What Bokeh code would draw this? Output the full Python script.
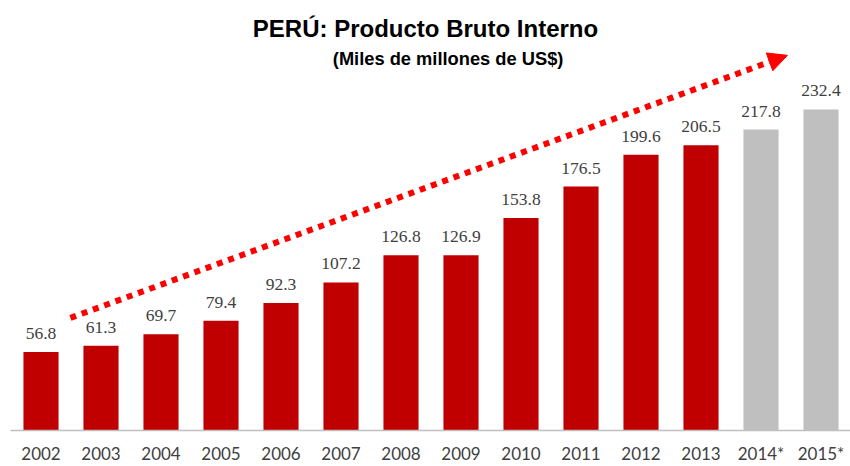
from bokeh.plotting import figure
from bokeh.models import (ColumnDataSource, Range1d, FixedTicker, LabelSet, Label,
                          Arrow, NormalHead)
from bokeh.embed import file_html
from bokeh.resources import INLINE

# ---- data ----
years = ["2002", "2003", "2004", "2005", "2006", "2007", "2008", "2009",
         "2010", "2011", "2012", "2013", "2014*", "2015*"]
pbi = [56.8, 61.3, 69.7, 79.4, 92.3, 107.2, 126.8, 126.9,
       153.8, 176.5, 199.6, 206.5, 217.8, 232.4]
projected = [False] * 12 + [True, True]
# trend arrow (data space: category index, value)
trend_start = (0.49, 81.5)
trend_end = (12.44, 271.5)

RED = "#C00000"
GRAY = "#BFBFBF"
TXT = "#404040"

idx = list(range(len(years)))
labels = [f"{v:.1f}" for v in pbi]
colors = [GRAY if p else RED for p in projected]
src = ColumnDataSource(dict(x=idx, top=pbi, lab=labels, color=colors))

W, H = 850, 466
LEFT = 10
x0 = -30.5 / 60.0
p = figure(width=W, height=H, output_backend="svg", toolbar_location=None,
           x_range=Range1d(x0, x0 + (W - LEFT) / 60.0),
           y_range=Range1d(0, 311.2),
           min_border_left=LEFT, min_border_right=0, min_border_top=0,
           min_border_bottom=30)
p.outline_line_color = None
p.background_fill_color = "white"
p.border_fill_color = "white"
p.xgrid.visible = False
p.ygrid.visible = False
p.yaxis.visible = False

p.vbar(x="x", top="top", width=0.585, color="color", line_color=None, source=src)

ax = p.xaxis[0]
ax.ticker = FixedTicker(ticks=idx)
ax.major_label_overrides = {i: y for i, y in zip(idx, years)}
ax.major_tick_line_color = None
ax.minor_tick_line_color = None
ax.axis_line_color = "#BFBFBF"
ax.axis_line_width = 1.5
ax.major_label_text_font = "Lato"
ax.major_label_text_font_size = "17px"
ax.major_label_text_color = TXT
ax.major_label_standoff = 6

p.add_layout(LabelSet(x="x", y="top", text="lab", source=src, text_align="center",
                      text_baseline="alphabetic", y_offset=13, text_font="Lato",
                      text_font_size="17.5px", text_color=TXT))

p.add_layout(Arrow(end=NormalHead(size=19, fill_color="#FF0000", line_color="#FF0000"),
                   x_start=trend_start[0], y_start=trend_start[1],
                   x_end=trend_end[0], y_end=trend_end[1],
                   line_color="#FF0000", line_width=6, line_dash="6 6"))

p.add_layout(Label(x=6.408, y=291.0, text="PERÚ: Producto Bruto Interno",
                   text_align="center", text_baseline="alphabetic",
                   text_font="Liberation Sans", text_font_style="bold",
                   text_font_size="24px", text_color="black"))
p.add_layout(Label(x=6.785, y=269.5, text="(Miles de millones de US$)",
                   text_align="center", text_baseline="alphabetic",
                   text_font="Liberation Sans", text_font_style="bold",
                   text_font_size="18.3px", text_color="black"))

open("out.html", "w").write(file_html(p, INLINE))
